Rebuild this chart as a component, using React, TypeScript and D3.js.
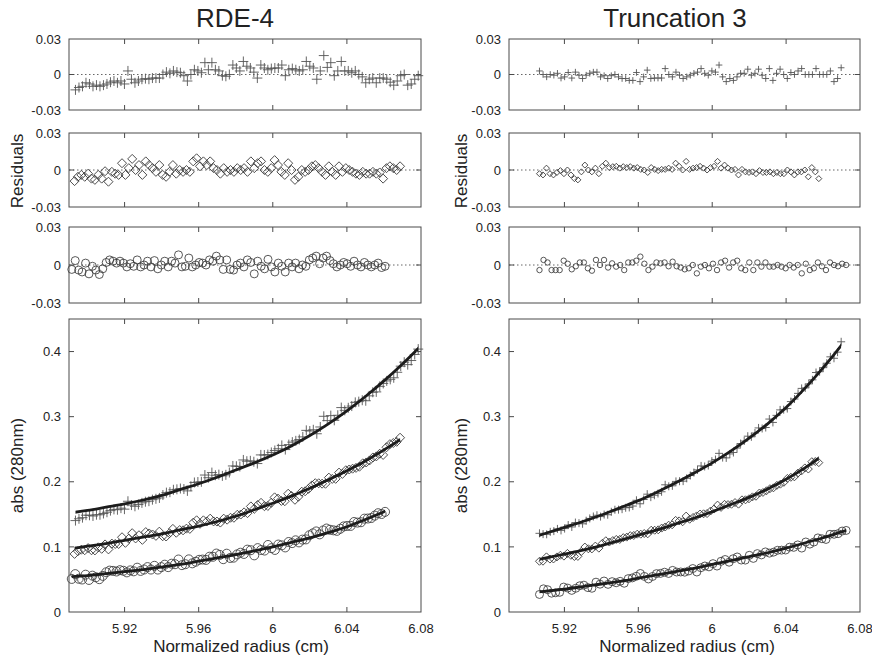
import React from "react";
import * as d3 from "d3";

const W = 872;
const H = 665;

// axis ticks
const radiusTicks = [5.92, 5.96, 6, 6.04, 6.08];
const absTicks = [0, 0.1, 0.2, 0.3, 0.4];
const residTicks = [-0.03, 0, 0.03];

// fitted curves, read every 0.01 cm
const fitRadius = [5.89, 5.9, 5.91, 5.92, 5.93, 5.94, 5.95, 5.96, 5.97, 5.98, 5.99, 6.0, 6.01, 6.02, 6.03, 6.04, 6.05, 6.06, 6.07, 6.08];
const rdePlusFit = [0.152, 0.156, 0.161, 0.166, 0.172, 0.179, 0.188, 0.197, 0.207, 0.218, 0.229, 0.241, 0.255, 0.271, 0.289, 0.309, 0.331, 0.355, 0.381, 0.409];
const rdeDiamondFit = [0.097, 0.101, 0.105, 0.11, 0.115, 0.12, 0.126, 0.132, 0.139, 0.147, 0.157, 0.167, 0.178, 0.19, 0.203, 0.217, 0.232, 0.249, 0.267, 0.287];
const rdeCircleFit = [0.054, 0.056, 0.059, 0.062, 0.065, 0.069, 0.073, 0.078, 0.083, 0.088, 0.094, 0.1, 0.107, 0.114, 0.122, 0.131, 0.142, 0.154, 0.167, 0.181];
const truPlusFit = [0.106, 0.112, 0.121, 0.13, 0.139, 0.149, 0.16, 0.171, 0.184, 0.198, 0.213, 0.229, 0.247, 0.267, 0.289, 0.314, 0.343, 0.375, 0.41, 0.449];
const truDiamondFit = [0.071, 0.077, 0.083, 0.089, 0.095, 0.102, 0.11, 0.118, 0.126, 0.135, 0.144, 0.154, 0.165, 0.176, 0.189, 0.204, 0.221, 0.241, 0.263, 0.287];
const truCircleFit = [0.026, 0.029, 0.032, 0.035, 0.039, 0.043, 0.047, 0.052, 0.057, 0.062, 0.067, 0.073, 0.079, 0.085, 0.091, 0.098, 0.106, 0.114, 0.123, 0.132];

// radius span of each scan [first, last]
const rdePlusSpan = [5.8935, 6.0785];
const rdeDiamondSpan = [5.893, 6.0687];
const rdeCircleSpan = [5.8915, 6.0606];
const truPlusSpan = [5.9065, 6.0698];
const truDiamondSpan = [5.9065, 6.0577];
const truCircleSpan = [5.9065, 6.0725];

// residuals (data - fit), in order of radius
const rdePlusResid = [
  -0.013, -0.011, -0.01, -0.007, -0.008, -0.01, -0.009, -0.01, -0.009, -0.008,
  -0.0065, -0.0055, -0.007, -0.0055, -0.008, 0.003, -0.004, -0.007, -0.0055, -0.004,
  -0.0035, -0.004, -0.003, -0.003, -0.003, 0, 0.002, 0.001, 0.003, 0.002,
  0.0015, -0.001, -0.0055, 0, 0.004, 0.003, 0.0015, 0.01, 0.004, 0.01,
  0.004, 0.003, -0.001, -0.0015, 0, 0.008, 0.0055, 0.003, 0.011, 0.007,
  0.0055, 0.002, -0.003, 0.008, 0.0055, 0.004, 0.005, 0.0055, 0.0055, 0.008,
  -0.001, 0.004, 0.005, 0.004, 0.003, 0.004, 0.011, 0.007, 0.0055, -0.004,
  0.003, 0.016, 0.006, 0.01, -0.001, 0.003, 0.011, 0.003, 0.003, 0.0015,
  0.003, 0, -0.002, -0.007, -0.004, -0.003, -0.007, -0.003, -0.003, -0.004,
  -0.0065, -0.009, -0.0055, -0.001, 0, -0.009, -0.008, -0.004, -0.001,
];
const rdeDiamondResid = [
  -0.009, -0.0055, -0.004, -0.0055, -0.003, -0.007, -0.008, -0.004, -0.007, -0.001,
  -0.0095, -0.0015, -0.003, -0.004, 0.0055, -0.004, 0.0015, 0.009, 0, 0.004,
  -0.004, 0.007, 0.004, 0.0015, -0.0015, 0.004, -0.004, -0.0055, -0.0015, 0.004,
  -0.003, 0, -0.0015, 0, -0.0015, 0.007, 0.0095, 0.003, 0.007, 0.004,
  0.007, 0.0015, 0, -0.003, 0.0015, -0.0015, 0, -0.0015, 0.0015, 0,
  0.0015, -0.0015, 0.007, 0.0015, 0.0055, 0.007, 0, -0.0015, 0.0015, 0.008,
  0.004, -0.0015, -0.004, 0.0055, 0, -0.008, -0.0055, 0, -0.0015, 0,
  0.003, 0.004, 0.0015, -0.0015, -0.004, 0.003, -0.0015, -0.004, 0.003, -0.0015,
  0.0015, 0, -0.0015, -0.003, -0.004, -0.0015, -0.003, -0.003, -0.0015, -0.003,
  -0.002, -0.007, 0.0015, 0.003, 0.0015, 0, 0.003,
];
const rdeCircleResid = [
  -0.0035, 0.0035, -0.004, -0.0055, 0.0015, -0.007, -0.001, -0.004, -0.0075, -0.003,
  0.002, 0.004, 0.003, 0.0015, 0.003, 0.0015, -0.0015, 0.001, -0.001, 0.004,
  -0.0015, 0, 0.003, -0.0015, 0.0035, -0.003, 0, 0.003, -0.0015, 0.003,
  0.0015, 0.008, -0.0015, -0.001, 0.0055, -0.0015, 0, 0.002, 0.0015, 0,
  0.004, 0.003, 0.007, 0.004, -0.0035, 0.004, -0.0035, -0.004, 0, 0.0015,
  -0.0015, 0.004, 0.002, -0.007, 0.003, -0.001, -0.003, 0.0045, -0.0015, -0.0055,
  0.0015, -0.001, -0.0055, 0.0015, -0.0015, 0.0015, -0.003, 0, -0.001, 0.004,
  0.0055, 0.007, 0.001, 0.0055, 0.007, 0.0035, 0.001, -0.0015, 0, 0.002,
  0.001, -0.001, 0.003, 0, -0.0015, 0.002, 0, -0.0015, 0, 0.0015,
  -0.002, -0.001,
];
const truPlusResid = [
  0.003, 0, -0.002, 0, -0.0006, 0.001, -0.003, -0.002, 0.0017, -0.003,
  0.002, -0.0006, -0.0034, -0.0006, 0.001, 0.002, 0.002, -0.002, -0.001, -0.0034,
  -0.001, 0, -0.002, -0.0034, -0.0034, -0.005, -0.005, 0.0017, -0.006, -0.002,
  0.0037, -0.0034, -0.003, -0.003, -0.003, 0.005, 0, -0.002, 0.002, -0.0006,
  -0.0034, -0.002, -0.0006, 0.001, 0.002, 0.005, 0.001, -0.0006, 0.003, 0.002,
  0.008, -0.002, -0.006, -0.0034, -0.005, -0.002, 0.001, 0.001, 0.0045, -0.0006,
  0.001, 0.0045, -0.0006, -0.0034, 0.005, -0.005, 0.001, 0.0045, 0, -0.0034,
  0.0017, 0, 0.003, 0.005, 0, 0, 0, 0.005, 0, 0,
  0, 0.003, -0.006, -0.0034, 0.0057,
];
const truDiamondResid = [
  -0.003, -0.004, 0.0015, -0.003, -0.004, -0.002, -0.0005, -0.003, 0, -0.004,
  -0.007, -0.008, -0.0015, 0.004, 0, -0.0015, 0.0015, -0.003, 0.003, 0.0055,
  0.002, 0.0027, 0.003, 0.0015, 0.0027, 0.002, 0.0027, 0.0015, 0.002, 0.0005,
  0, -0.002, 0.002, 0.0005, -0.0005, 0.0005, 0.0005, 0.0015, 0.0005, 0.0055,
  0.003, 0, 0.007, 0.0005, 0.0015, 0.002, 0.003, 0.0015, 0, 0.002,
  0.003, 0.007, 0.0015, 0.004, 0.0015, 0, 0.0005, -0.004, 0.0005, -0.0015,
  -0.002, -0.0015, -0.003, -0.0005, -0.002, -0.002, -0.0015, -0.003, -0.002, -0.003,
  -0.003, 0, -0.0015, -0.004, -0.0015, -0.0015, 0, -0.0055, 0.002, -0.0015,
  -0.007,
];
const truCircleResid = [
  -0.004, 0.004, 0.002, -0.004, -0.004, -0.004, 0.0034, 0.001, -0.0034, -0.001,
  0.002, 0.002, -0.0026, -0.0045, 0.004, 0, 0.004, -0.002, 0.0013, -0.0013,
  0, -0.004, 0.002, 0.002, 0.0034, 0.0066, 0.001, -0.004, -0.0013, 0.002,
  0.0013, 0.002, -0.001, 0.0026, -0.001, -0.002, -0.0034, -0.0026, 0, -0.0066,
  -0.0013, 0, -0.0026, 0.001, -0.004, 0.002, 0.0034, -0.002, 0.002, 0.0034,
  -0.0026, -0.004, 0.002, -0.004, 0.002, -0.0013, 0.002, -0.0013, -0.0013, 0,
  -0.0013, -0.0026, 0, -0.002, 0, -0.0066, 0.001, -0.004, -0.0026, 0.002,
  -0.001, -0.004, 0.002, 0, -0.001, 0.001, 0,
];

type Shape = "plus" | "diamond" | "circle";
type Series = { shape: Shape; span: number[]; fit: number[]; resid: number[] };

const panels = [
  {
    title: "RDE-4",
    left: 69,
    right: 421,
    titleX: 235,
    xTitleX: 241,
    yTitleX: 23,
    residSize: [5, 4.5, 4],
    mainSize: [5, 4.5, 4.5],
    series: [
      { shape: "plus", span: rdePlusSpan, fit: rdePlusFit, resid: rdePlusResid },
      { shape: "diamond", span: rdeDiamondSpan, fit: rdeDiamondFit, resid: rdeDiamondResid },
      { shape: "circle", span: rdeCircleSpan, fit: rdeCircleFit, resid: rdeCircleResid },
    ] as Series[],
  },
  {
    title: "Truncation 3",
    left: 509,
    right: 860,
    titleX: 675,
    xTitleX: 687,
    yTitleX: 467,
    residSize: [3.3, 3, 2.7],
    mainSize: [4, 4, 4],
    series: [
      { shape: "plus", span: truPlusSpan, fit: truPlusFit, resid: truPlusResid },
      { shape: "diamond", span: truDiamondSpan, fit: truDiamondFit, resid: truDiamondResid },
      { shape: "circle", span: truCircleSpan, fit: truCircleFit, resid: truCircleResid },
    ] as Series[],
  },
];

const residRows = [
  { top: 39, bottom: 110 },
  { top: 133, bottom: 207 },
  { top: 227, bottom: 303 },
];
const mainRow = { top: 319, bottom: 612 };

const FONT = "'Liberation Sans', Arial, Helvetica, sans-serif";
const TEXT = "#222";
const FRAME = "#4a4a4a";
const MARK = "#3a3a3a";
const TICK = 5;

function marker(shape: Shape, x: number, y: number, s: number, key: string) {
  if (shape === "circle") {
    return <circle key={key} cx={x} cy={y} r={s} fill="none" stroke={MARK} strokeWidth={0.85} />;
  }
  const d =
    shape === "plus"
      ? `M${x - s},${y}H${x + s}M${x},${y - s}V${y + s}`
      : `M${x},${y - s}L${x + s},${y}L${x},${y + s}L${x - s},${y}Z`;
  return <path key={key} d={d} fill="none" stroke={shape === "plus" ? "#555" : MARK} strokeWidth={0.9} />;
}

function radii(s: Series) {
  const idx = d3.scaleLinear().domain([0, s.resid.length - 1]).range(s.span);
  return s.resid.map((_, i) => idx(i));
}

function Panel({ p, pi }: { p: (typeof panels)[number]; pi: number }) {
  const x = d3.scaleLinear().domain([5.89, 6.08]).range([p.left, p.right]);
  const xTicks = radiusTicks.filter((t) => t < 6.079);

  const residPanels = p.series.map((s, si) => {
    const row = residRows[si];
    const y = d3.scaleLinear().domain([-0.03, 0.03]).range([row.bottom, row.top]);
    const rs = radii(s);
    return (
      <g key={`r${si}`}>
        <line x1={p.left} x2={p.right} y1={y(0)} y2={y(0)} stroke="#666" strokeWidth={1} strokeDasharray="1.5,2.5" />
        {s.resid.map((v, i) => marker(s.shape, x(rs[i]), y(v), p.residSize[si], `m${i}`))}
        {xTicks.map((t) => (
          <g key={`t${t}`} stroke={FRAME} strokeWidth={1}>
            <line x1={x(t)} x2={x(t)} y1={row.top} y2={row.top + TICK} />
            <line x1={x(t)} x2={x(t)} y1={row.bottom} y2={row.bottom - TICK} />
          </g>
        ))}
        <line x1={p.left} x2={p.left + TICK} y1={y(0)} y2={y(0)} stroke={FRAME} />
        <line x1={p.right} x2={p.right - TICK} y1={y(0)} y2={y(0)} stroke={FRAME} />
        <rect x={p.left} y={row.top} width={p.right - p.left} height={row.bottom - row.top} fill="none" stroke={FRAME} strokeWidth={1} />
        {residTicks.map((t) => (
          <text key={`l${t}`} x={p.left - 8} y={y(t)} dy="0.36em" textAnchor="end" fontSize={13} fill={TEXT}>
            {t === 0 ? "0" : t.toFixed(2)}
          </text>
        ))}
      </g>
    );
  });

  const y = d3.scaleLinear().domain([0, 0.45]).range([mainRow.bottom, mainRow.top]);
  const line = d3
    .line<number>()
    .x((_, i) => x(fitRadius[i]))
    .y((d) => y(d))
    .curve(d3.curveMonotoneX);

  const main = (
    <g>
      {p.series.map((s, si) => {
        const fitAt = d3.scaleLinear().domain(fitRadius).range(s.fit);
        const rs = radii(s);
        return (
          <g key={`s${si}`}>
            {s.resid.map((v, i) => marker(s.shape, x(rs[i]), y(fitAt(rs[i]) + v), p.mainSize[si], `m${i}`))}
          </g>
        );
      })}
      {p.series.map((s, si) => {
        const id = `clip${pi}${si}`;
        return (
          <g key={`f${si}`}>
            <clipPath id={id}>
              <rect x={x(s.span[0])} y={mainRow.top} width={x(s.span[1]) - x(s.span[0])} height={mainRow.bottom - mainRow.top} />
            </clipPath>
            <path d={line(s.fit) || ""} fill="none" stroke="#1c1c1c" strokeWidth={2.8} clipPath={`url(#${id})`} />
          </g>
        );
      })}
      {xTicks.map((t) => (
        <g key={`t${t}`} stroke={FRAME} strokeWidth={1}>
          <line x1={x(t)} x2={x(t)} y1={mainRow.top} y2={mainRow.top + TICK} />
          <line x1={x(t)} x2={x(t)} y1={mainRow.bottom} y2={mainRow.bottom - TICK} />
        </g>
      ))}
      {absTicks.slice(1).map((t) => (
        <g key={`a${t}`} stroke={FRAME} strokeWidth={1}>
          <line x1={p.left} x2={p.left + TICK} y1={y(t)} y2={y(t)} />
          <line x1={p.right} x2={p.right - TICK} y1={y(t)} y2={y(t)} />
        </g>
      ))}
      <rect x={p.left} y={mainRow.top} width={p.right - p.left} height={mainRow.bottom - mainRow.top} fill="none" stroke={FRAME} strokeWidth={1} />
      {absTicks.map((t) => (
        <text key={`al${t}`} x={p.left - 8} y={y(t)} dy="0.36em" textAnchor="end" fontSize={13} fill={TEXT}>
          {t === 0 ? "0" : String(t)}
        </text>
      ))}
      {radiusTicks.map((t) => (
        <text key={`xl${t}`} x={x(t)} y={633} textAnchor="middle" fontSize={13} fill={TEXT}>
          {String(t)}
        </text>
      ))}
    </g>
  );

  return (
    <g fontFamily={FONT}>
      <text x={p.titleX} y={27} textAnchor="middle" fontSize={26} fill={TEXT}>
        {p.title}
      </text>
      {residPanels}
      {main}
      <text transform={`translate(${p.yTitleX},${(residRows[0].top + residRows[2].bottom) / 2}) rotate(-90)`} textAnchor="middle" fontSize={17} fill={TEXT}>
        Residuals
      </text>
      <text transform={`translate(${p.yTitleX},${(mainRow.top + mainRow.bottom) / 2}) rotate(-90)`} textAnchor="middle" fontSize={17} fill={TEXT}>
        abs (280nm)
      </text>
      <text x={p.xTitleX} y={652} textAnchor="middle" fontSize={17} fill={TEXT}>
        Normalized radius (cm)
      </text>
    </g>
  );
}

export default function App() {
  return (
    <svg width={W} height={H} style={{ position: "absolute", left: 0, top: 0, background: "#fff" }}>
      <rect width={W} height={H} fill="#fff" />
      {panels.map((p, pi) => (
        <Panel key={p.title} p={p} pi={pi} />
      ))}
    </svg>
  );
}
